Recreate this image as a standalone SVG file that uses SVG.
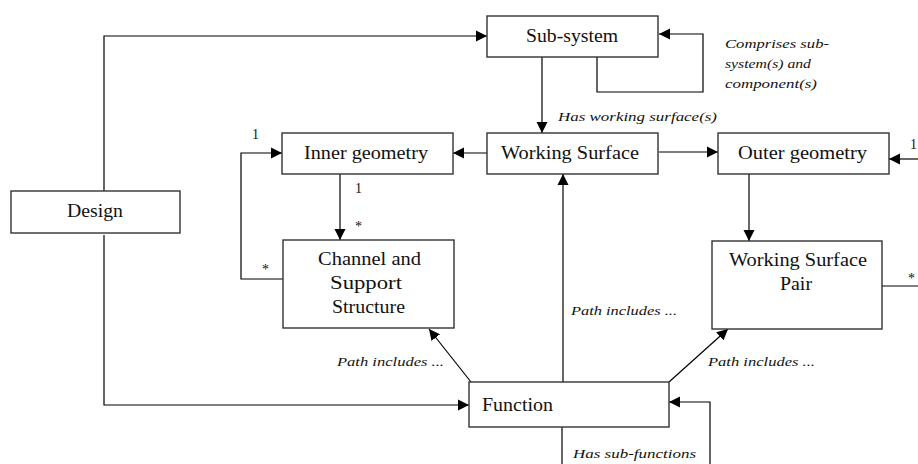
<svg xmlns="http://www.w3.org/2000/svg" width="918" height="464" viewBox="0 0 918 464" font-family="'Liberation Serif', 'DejaVu Serif', 'Times New Roman', serif">
<defs>
<marker id="ah" markerUnits="userSpaceOnUse" markerWidth="12" markerHeight="12" refX="11" refY="6" orient="auto">
<path d="M0,0.5 L11,6 L0,11.5 z" fill="#000"/>
</marker>
<style>
.box{fill:#fff;stroke:#333;stroke-width:1.4}
text{font-family:"Liberation Serif","DejaVu Serif","Times New Roman",serif}
.t{font-size:18px;fill:#111}
.lbl{font-size:13px;font-style:italic;fill:#111}
.n{font-size:14px;fill:#111}
.c{fill:none;stroke:#000;stroke-width:1.2}
.a{fill:none;stroke:#000;stroke-width:1.2;marker-end:url(#ah)}
</style>
</defs>
<rect width="918" height="464" fill="#fff"/>
<g id="connectors">
<polyline class="a" points="104,191 104,36 487,36"/>
<polyline class="a" points="104,235 104,405 469,405"/>
<polyline class="a" points="597,57 597,92 703,92 703,34 659,34"/>
<line class="a" x1="542" y1="57" x2="542" y2="133"/>
<line class="a" x1="659" y1="152" x2="718" y2="152"/>
<line class="a" x1="487" y1="153" x2="453" y2="153"/>
<line class="a" x1="918" y1="159" x2="889" y2="159"/>
<line class="a" x1="340" y1="174" x2="340" y2="240"/>
<polyline class="a" points="283,279 241,279 241,153 282,153"/>
<line class="a" x1="749" y1="174" x2="749" y2="241"/>
<line class="c" x1="882" y1="286" x2="918" y2="286"/>
<line class="a" x1="563" y1="382" x2="563" y2="174"/>
<line class="a" x1="471" y1="382" x2="429" y2="329"/>
<line class="a" x1="669" y1="382" x2="728" y2="329"/>
<polyline class="a" points="710,464 710,402 669,402"/>
<line class="c" x1="562" y1="427" x2="562" y2="464"/>
<text class="lbl" x="558" y="121" textLength="159" lengthAdjust="spacingAndGlyphs">Has working surface(s)</text>
<text class="lbl" x="725" y="48" textLength="104" lengthAdjust="spacingAndGlyphs">Comprises sub-</text>
<text class="lbl" x="725" y="68" textLength="86" lengthAdjust="spacingAndGlyphs">system(s) and</text>
<text class="lbl" x="725" y="88" textLength="92" lengthAdjust="spacingAndGlyphs">component(s)</text>
<text class="lbl" x="571" y="315" textLength="106" lengthAdjust="spacingAndGlyphs">Path includes ...</text>
<text class="lbl" x="337" y="366" textLength="107" lengthAdjust="spacingAndGlyphs">Path includes ...</text>
<text class="lbl" x="708" y="366" textLength="107" lengthAdjust="spacingAndGlyphs">Path includes ...</text>
<text class="lbl" x="573" y="458" textLength="123" lengthAdjust="spacingAndGlyphs">Has sub-functions</text>
<text class="n" x="252" y="139">1</text>
<text class="n" x="355" y="193">1</text>
<text class="n" x="355" y="231">*</text>
<text class="n" x="262" y="274">*</text>
<text class="n" x="910" y="149">1</text>
<text class="n" x="908" y="283">*</text>
</g>
<g id="subsystem">
<rect class="box" x="487" y="16" width="171" height="41"/>
<text class="t" x="526" y="42" textLength="92" lengthAdjust="spacingAndGlyphs">Sub-system</text>
</g>
<g id="working-surface">
<rect class="box" x="487" y="133" width="171" height="41"/>
<text class="t" x="501" y="159" textLength="138" lengthAdjust="spacingAndGlyphs">Working Surface</text>
</g>
<g id="outer-geometry">
<rect class="box" x="718" y="133" width="171" height="41"/>
<text class="t" x="738" y="159" textLength="129" lengthAdjust="spacingAndGlyphs">Outer geometry</text>
</g>
<g id="inner-geometry">
<rect class="box" x="282" y="133" width="171" height="41"/>
<text class="t" x="304" y="159" textLength="124" lengthAdjust="spacingAndGlyphs">Inner geometry</text>
</g>
<g id="design">
<rect class="box" x="11" y="191" width="169" height="42"/>
<text class="t" x="67" y="217" textLength="56" lengthAdjust="spacingAndGlyphs">Design</text>
</g>
<g id="channel">
<rect class="box" x="283" y="240" width="171" height="88"/>
<text class="t" x="318" y="265" textLength="103" lengthAdjust="spacingAndGlyphs">Channel and</text>
<text class="t" x="330" y="289" textLength="72" lengthAdjust="spacingAndGlyphs">Support</text>
<text class="t" x="332" y="313" textLength="73" lengthAdjust="spacingAndGlyphs">Structure</text>
</g>
<g id="ws-pair">
<rect class="box" x="712" y="241" width="170" height="88"/>
<text class="t" x="729" y="266" textLength="138" lengthAdjust="spacingAndGlyphs">Working Surface</text>
<text class="t" x="780" y="290" textLength="32" lengthAdjust="spacingAndGlyphs">Pair</text>
</g>
<g id="function">
<rect class="box" x="469" y="382" width="200" height="45"/>
<text class="t" x="482" y="411" textLength="71" lengthAdjust="spacingAndGlyphs">Function</text>
</g>
</svg>
